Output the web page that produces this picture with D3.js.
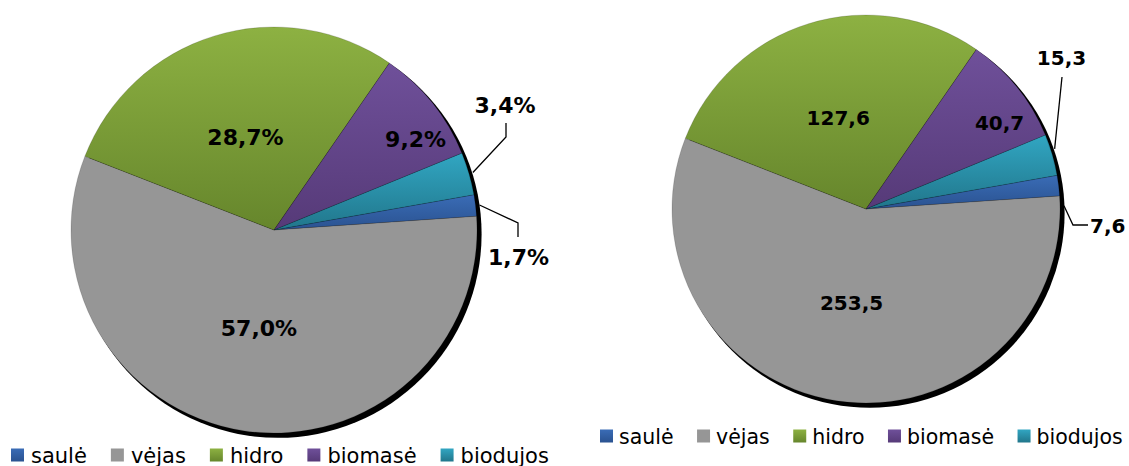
<!DOCTYPE html>
<html>
<head>
<meta charset="utf-8">
<script src="https://cdn.jsdelivr.net/npm/d3@7"></script>
<style>
  html, body { margin: 0; padding: 0; background: #fff; }
  svg { display: block; }
  text { font-family: "DejaVu Sans", Verdana, sans-serif; fill: #000; }
</style>
</head>
<body>
<svg id="chart"></svg>
<script>
// energy sources, same order in both pies
var categories = ["saulė", "vėjas", "hidro", "biomasė", "biodujos"];
// left pie: share, %
var sharePct = [1.7, 57.0, 28.7, 9.2, 3.4];
// right pie: amounts
var amounts = [7.6, 253.5, 127.6, 40.7, 15.3];

var width = 1129,
    height = 466;

var svg = d3.select("#chart")
    .attr("width", width)
    .attr("height", height);

// top / bottom colour of each slice gradient
var sliceColors = [
    ["#3a6cb6", "#2a5290"],
    ["#969696", "#969696"],
    ["#8db142", "#66862c"],
    ["#6f509a", "#563a78"],
    ["#31a6c2", "#21768b"]
];

var defs = svg.append("defs");
sliceColors.forEach(function(c, i) {
    var g = defs.append("linearGradient")
        .attr("id", "grad" + i)
        .attr("x1", 0).attr("y1", 0)
        .attr("x2", 0).attr("y2", 1);
    g.append("stop").attr("offset", "0%").attr("stop-color", c[0]);
    g.append("stop").attr("offset", "100%").attr("stop-color", c[1]);
});

function commaFmt(v) {
    return d3.format(".1f")(v).replace(".", ",");
}

// layout of the two pies
var charts = [
    {
        values: sharePct,
        label: function(v) { return commaFmt(v) + "%"; },
        cx: 274, cy: 230, r: 203, fontSize: 22,
        inside: { 1: { f: 0.49, da: 0 }, 2: { f: 0.48, da: 0 }, 3: { f: 0.83, da: 6 } },
        outside: {
            4: { da: 0, pts: [[232, -93], [232, -107]], text: [231, -117], anchor: "middle" },
            0: { da: 0, pts: [[244, -7], [244, 7]], text: [244.5, 35], anchor: "middle" }
        },
        legend: { x: 11, y: 448.5, fontSize: 21, textOff: 20, gap: 24 }
    },
    {
        values: amounts,
        label: function(v) { return commaFmt(v); },
        cx: 866, cy: 209, r: 194, fontSize: 20,
        inside: { 1: { f: 0.49, da: 0 }, 2: { f: 0.49, da: 0 }, 3: { f: 0.82, da: 6 } },
        outside: {
            4: { da: -1.5, pts: [[196, -132]], text: [195.5, -144], anchor: "middle" },
            0: { da: 6, pts: [[207, 16], [222, 16]], text: [224, 24], anchor: "start" }
        },
        legend: { x: 600, y: 429.5, fontSize: 20.5, textOff: 19, gap: 23.5 }
    }
];

var startAngle = 80 * Math.PI / 180;

var pie = d3.pie()
    .sort(null)
    .startAngle(startAngle)
    .endAngle(startAngle + 2 * Math.PI);

function drawPie(c) {
    var g = svg.append("g")
        .attr("transform", "translate(" + c.cx + "," + c.cy + ")");

    var arcs = pie(c.values);
    var arc = d3.arc().innerRadius(0).outerRadius(c.r);

    // drop shadow
    g.append("circle")
        .attr("cx", 3.8)
        .attr("cy", 4)
        .attr("r", c.r + 0.8)
        .attr("fill", "#000");

    g.selectAll(".slice")
        .data(arcs)
        .enter()
        .append("path")
        .attr("class", "slice")
        .attr("d", arc)
        .attr("fill", function(d, i) { return "url(#grad" + i + ")"; })
        .attr("stroke", "rgba(0,0,0,0.25)")
        .attr("stroke-width", 0.6);

    // labels inside the slices
    arcs.forEach(function(d, i) {
        var p = c.inside[i];
        if (!p) return;
        var a = (d.startAngle + d.endAngle) / 2 + p.da * Math.PI / 180;
        var rr = c.r * p.f;
        g.append("text")
            .attr("x", Math.sin(a) * rr)
            .attr("y", -Math.cos(a) * rr)
            .attr("dy", "0.36em")
            .attr("text-anchor", "middle")
            .attr("font-size", c.fontSize)
            .attr("font-weight", "bold")
            .text(c.label(c.values[i]));
    });

    // small slices: leader line + outside label
    arcs.forEach(function(d, i) {
        var o = c.outside[i];
        if (!o) return;
        var a = (d.startAngle + d.endAngle) / 2 + o.da * Math.PI / 180;
        var rr = c.r + 4;
        var pts = [[Math.sin(a) * rr, -Math.cos(a) * rr]].concat(o.pts);
        g.append("path")
            .attr("d", d3.line()(pts))
            .attr("fill", "none")
            .attr("stroke", "#000")
            .attr("stroke-width", 1.3);
        g.append("text")
            .attr("x", o.text[0])
            .attr("y", o.text[1])
            .attr("text-anchor", o.anchor)
            .attr("font-size", c.fontSize)
            .attr("font-weight", "bold")
            .text(c.label(c.values[i]));
    });

    // legend
    var L = c.legend;
    var lg = svg.append("g");
    var x = L.x;
    categories.forEach(function(name, i) {
        lg.append("rect")
            .attr("x", x)
            .attr("y", L.y)
            .attr("width", 13)
            .attr("height", 13)
            .attr("fill", "url(#grad" + i + ")");
        var t = lg.append("text")
            .attr("x", x + L.textOff)
            .attr("y", L.y + 14)
            .attr("font-size", L.fontSize)
            .text(name);
        x += L.textOff + t.node().getComputedTextLength() + L.gap;
    });
}

charts.forEach(drawPie);
</script>
</body>
</html>
